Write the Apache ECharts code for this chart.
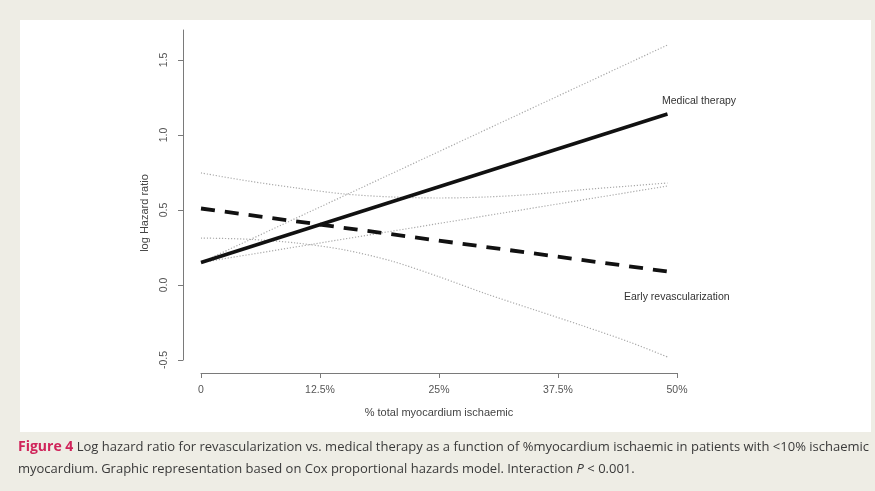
<!DOCTYPE html>
<html>
<head>
<meta charset="utf-8">
<script src="https://cdn.jsdelivr.net/npm/echarts@6/dist/echarts.min.js"></script>
<style>
  html, body { margin: 0; padding: 0; background: #eeede5; }
  #chart { width: 875px; height: 491px; }
</style>
</head>
<body>
<div id="chart"></div>
<script>
// % total myocardium ischaemic (x) for the straight model lines
const lineX = [0, 49];
const medicalTherapy = [0.15, 1.14];
const earlyRevasc = [0.51, 0.09];
const medicalUpper = [0.15, 1.60];
const medicalLower = [0.15, 0.66];

// Confidence band of early revascularization, read at these x values
const bandX = [0, 5, 10, 15, 20, 25, 30, 35, 40, 45, 49];
const revascUpper = [0.747, 0.693, 0.647, 0.607, 0.587, 0.58, 0.587, 0.605, 0.635, 0.66, 0.68];
const revascLower = [0.313, 0.305, 0.28, 0.235, 0.16, 0.055, -0.06, -0.165, -0.27, -0.38, -0.48];

const xTicks = [0, 12.5, 25, 37.5, 50];
const xTickLabels = ['0', '12.5%', '25%', '37.5%', '50%'];
const yTicks = [-0.5, 0, 0.5, 1, 1.5];

const pairs = (xs, ys) => xs.map((x, i) => [x, ys[i]]);

const dotted = { color: '#a9a9a9', width: 1.2, type: [1.2, 1.8] };

const chart = echarts.init(document.getElementById('chart'));
chart.setOption({
  backgroundColor: '#eeede5',
  animation: false,
  grid: { left: 201, right: 198, top: 30, bottom: 131 },
  xAxis: {
    type: 'value', min: 0, max: 50, interval: 12.5, offset: 13,
    axisLine: { show: true, onZero: false, lineStyle: { color: '#7a7a7a', width: 1 } },
    axisTick: { show: true, length: 5, customValues: xTicks, lineStyle: { color: '#7a7a7a' } },
    splitLine: { show: false },
    axisLabel: {
      customValues: xTicks, margin: 12, color: '#555', fontSize: 10.5,
      fontFamily: 'Liberation Sans',
      formatter: v => xTickLabels[xTicks.indexOf(v)]
    },
    name: '% total myocardium ischaemic', nameLocation: 'middle', nameGap: 34,
    nameTextStyle: { color: '#444', fontSize: 11, fontFamily: 'Liberation Sans' }
  },
  yAxis: {
    type: 'value', min: -0.5, max: 1.7, interval: 0.5, offset: 18,
    axisLine: { show: true, onZero: false, lineStyle: { color: '#7a7a7a', width: 1 } },
    axisTick: { show: true, length: 5, customValues: yTicks, lineStyle: { color: '#7a7a7a' } },
    splitLine: { show: false },
    axisLabel: {
      customValues: yTicks, rotate: 90, margin: 13, color: '#555', fontSize: 10.5,
      fontFamily: 'Liberation Sans',
      formatter: v => v.toFixed(1)
    }
  },
  graphic: [
    { type: 'rect', z: -10, shape: { x: 20, y: 20, width: 851, height: 412 }, style: { fill: '#ffffff' } },
    { type: 'text', x: 145, y: 213, rotation: Math.PI / 2,
      style: { text: 'log Hazard ratio', fill: '#444', font: '11px "Liberation Sans"', align: 'center', verticalAlign: 'middle' } },
    { type: 'text', x: 662, y: 101,
      style: { text: 'Medical therapy', fill: '#333', font: '10.5px "Liberation Sans"', verticalAlign: 'middle' } },
    { type: 'text', x: 624, y: 297,
      style: { text: 'Early revascularization', fill: '#333', font: '10.5px "Liberation Sans"', verticalAlign: 'middle' } },
    { type: 'text', x: 18, y: 447,
      style: {
        text: '{fig|Figure 4} {t|Log hazard ratio for revascularization vs. medical therapy as a function of %myocardium ischaemic in patients with <10% ischaemic}',
        verticalAlign: 'middle',
        rich: {
          fig: { fill: '#d0245a', font: 'bold 14px "Open Sans"' },
          t: { fill: '#3a3a3a', font: '13px "Open Sans"' }
        }
      } },
    { type: 'text', x: 18, y: 469,
      style: {
        text: '{t|myocardium. Graphic representation based on Cox proportional hazards model. Interaction }{i|P}{t| < 0.001.}',
        verticalAlign: 'middle',
        rich: {
          t: { fill: '#3a3a3a', font: '13px "Open Sans"' },
          i: { fill: '#3a3a3a', font: 'italic 13px "Open Sans"' }
        }
      } }
  ],
  series: [
    { type: 'line', data: pairs(lineX, medicalUpper), showSymbol: false, lineStyle: dotted, silent: true },
    { type: 'line', data: pairs(lineX, medicalLower), showSymbol: false, lineStyle: dotted, silent: true },
    { type: 'line', data: pairs(bandX, revascUpper), showSymbol: false, smooth: 0.3, lineStyle: dotted, silent: true },
    { type: 'line', data: pairs(bandX, revascLower), showSymbol: false, smooth: 0.3, lineStyle: dotted, silent: true },
    { name: 'Medical therapy', type: 'line', data: pairs(lineX, medicalTherapy), showSymbol: false,
      lineStyle: { color: '#111', width: 3.5 } },
    { name: 'Early revascularization', type: 'line', data: pairs(lineX, earlyRevasc), showSymbol: false,
      lineStyle: { color: '#111', width: 3.8, type: [14, 10] } }
  ]
});
</script>
</body>
</html>
